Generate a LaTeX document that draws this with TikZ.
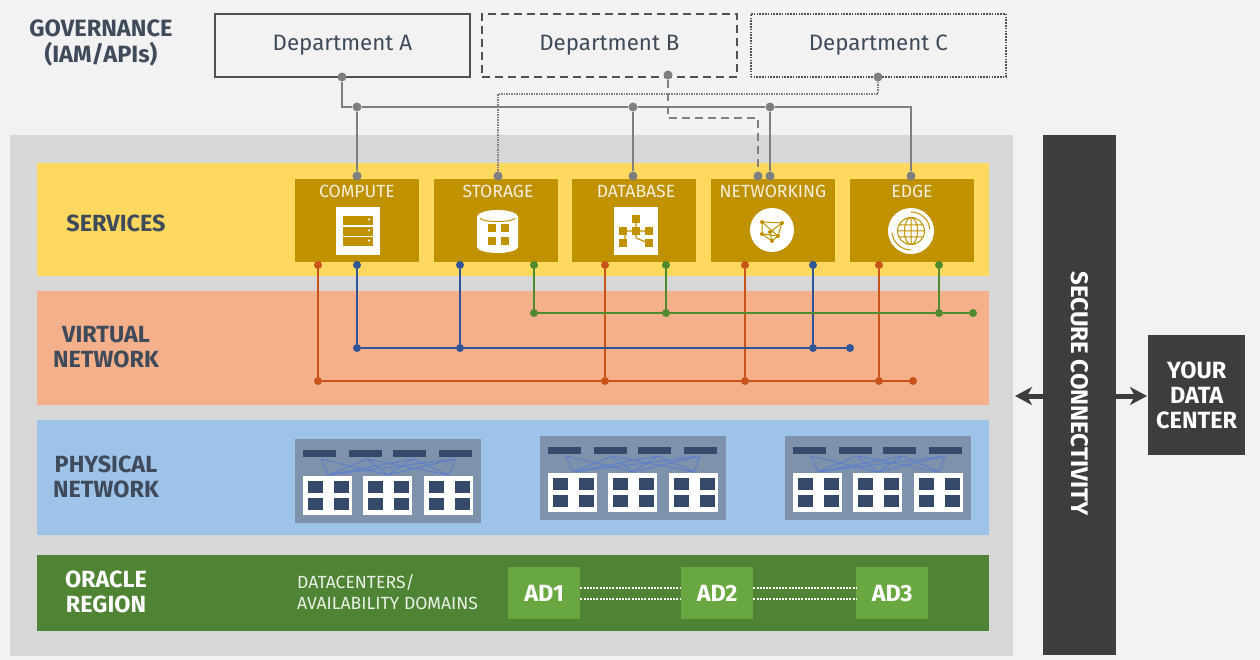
\documentclass[tikz,border=0pt]{standalone}
\usepackage{fontspec}
\setmainfont{Fira Sans}
\usetikzlibrary{arrows.meta,calc}
\definecolor{pagebg}{HTML}{F2F2F2}
\definecolor{panel}{HTML}{D7D7D7}
\definecolor{svcband}{HTML}{FFD860}
\definecolor{vnband}{HTML}{F4B08A}
\definecolor{phband}{HTML}{9DC3E8}
\definecolor{orband}{HTML}{4F8434}
\definecolor{svcbox}{HTML}{C09200}
\definecolor{adbox}{HTML}{69A840}
\definecolor{unitc}{HTML}{7E92AC}
\definecolor{navy}{HTML}{35496B}
\definecolor{linkc}{HTML}{5F80C8}
\definecolor{linegray}{HTML}{7F7F7F}
\definecolor{deptline}{HTML}{505050}
\definecolor{textc}{HTML}{3F4A5A}
\definecolor{darkbar}{HTML}{3D3D3D}
\definecolor{orgline}{HTML}{C9541A}
\definecolor{blueline}{HTML}{2F5597}
\definecolor{greenline}{HTML}{4F8A2E}
\tikzset{
  x=1pt,y=-1pt,
  deptbox/.style={draw=deptline,line width=1.8pt,fill=none,anchor=north west,inner sep=0,minimum width=255pt,minimum height=63pt,text=textc,font=\fontsize{22.3}{25}\selectfont},
  svc/.style={fill=svcbox,anchor=north west,inner sep=0,minimum width=124pt,minimum height=83pt},
  svclabel/.style={text=white!85!svcbox,font=\fontsize{17.6}{20}\selectfont,inner sep=0},
  bandlabel/.style={text=textc,align=center,inner sep=0,font=\bfseries\fontsize{23.4}{25}\selectfont},
  gdot/.style={circle,fill=linegray,inner sep=0,minimum size=9pt},
  odot/.style={circle,fill=orgline,inner sep=0,minimum size=8pt},
  bdot/.style={circle,fill=blueline,inner sep=0,minimum size=8pt},
  grdot/.style={circle,fill=greenline,inner sep=0,minimum size=8pt},
  gline/.style={draw=linegray,line width=2pt},
  oline/.style={draw=orgline,line width=2pt},
  bline/.style={draw=blueline,line width=2pt},
  grline/.style={draw=greenline,line width=2pt},
  adnode/.style={fill=adbox,anchor=north west,inner sep=0,minimum width=72pt,minimum height=52pt,text=white,font=\bfseries\fontsize{23.5}{24}\selectfont},
  adlink/.style={draw=white,line width=2.2pt,dash pattern=on 2pt off 1.2pt},
  bigarrow/.style={draw=darkbar,line width=5pt,-{Stealth[length=17pt,width=18pt,inset=5pt]}},
  wh/.style={fill=white,draw=none},
  ic/.style={fill=svcbox,draw=none},
  icl/.style={draw=svcbox,line width=1.2pt},
}
\newcommand{\netunit}[2]{%
  \begin{scope}[shift={(#1,#2)}]
    \fill[unitc] (0,0) rectangle (186,84);
    \foreach \bx in {8,54,98,144}{\fill[navy] (\bx,11) rectangle ++(33,6.5);}
    \draw[linkc,line width=1pt] (26,20) -- (33,36) -- (72,20) -- (93,36) -- (118,20) -- (154,36) -- (160,20) -- (33,36)
      (72,20) -- (154,36) (118,20) -- (33,36) (26,20) -- (93,36) (160,20) -- (93,36);
    \foreach \ux in {8,68,129}{
      \fill[white] (\ux,37) rectangle ++(48.5,39);
      \foreach \qx/\qy in {5/5,31/5,5/22,31/22}{\fill[navy] (\ux+\qx,37+\qy) rectangle ++(14.5,11.5);}
    }
  \end{scope}}
\begin{document}
\begin{tikzpicture}
\useasboundingbox (0,0) rectangle (1260,660);
\fill[pagebg] (0,0) rectangle (1260,660);
\fill[panel] (10,135) rectangle (1013,656);
\fill[svcband] (37,163) rectangle (989,276);
\fill[vnband] (37,291) rectangle (989,405);
\fill[phband] (37,420) rectangle (989,535);
\fill[orband] (37,555) rectangle (989,631);

% departments
\node[deptbox] (deptA) at (214,13) {Department A};
\node[deptbox,dash pattern=on 8pt off 5pt] (deptB) at (481,13) {Department B};
\node[deptbox,line width=1.6pt,dash pattern=on 1.6pt off 1.2pt] (deptC) at (750,13) {Department C};
\node[bandlabel,font=\bfseries\fontsize{23.6}{26}\selectfont] (gov) at (101,43) {GOVERNANCE\\(IAM/APIs)};

% band labels
\node[bandlabel] (lsvc) at (116,223) {SERVICES};
\node[bandlabel] (lvn) at (106,347) {VIRTUAL\\NETWORK};
\node[bandlabel] (lph) at (106,477) {PHYSICAL\\NETWORK};
\node[bandlabel,text=white] (lor) at (106,592) {ORACLE\\REGION};

% service boxes
\node[svc] (compute) at (295,179) {};
\node[svc] (storage) at (434,179) {};
\node[svc] (database) at (572,179) {};
\node[svc] (networking) at (711,179) {};
\node[svc] (edge) at (850,179) {};
\node[svclabel] at (357,191) {COMPUTE};
\node[svclabel] at (498,191) {STORAGE};
\node[svclabel] at (636,191) {DATABASE};
\node[svclabel] at (773,191) {NETWORKING};
\node[svclabel] at (912,191) {EDGE};

% compute icon
\fill[wh] (336,207) rectangle (380,255);
\foreach \yy in {216,227,237}{\fill[ic] (343,\yy) rectangle (373,\yy+9);
  \fill[white] (369,\yy+3.5) circle (1.2);}
% storage icon
\fill[wh] (477,217) -- (477,247) arc[start angle=180,end angle=0,x radius=20.5,y radius=6] -- (518,217) -- cycle;
\fill[wh] (497.5,217) ellipse [x radius=20.5,y radius=7];
\draw[svcbox,line width=1pt] (480,218) arc[start angle=180,end angle=0,x radius=17.5,y radius=3.5];
\foreach \qx/\qy in {488/224,501/224,488/237,501/237}{\fill[ic] (\qx,\qy) rectangle ++(8,8);}
% database icon
\fill[wh] (614,207) rectangle (658,255);
\draw[icl] (636,222) -- (636,238) (620,231) -- (650,231) (625,243) -- (625,231) (636,238) -- (648,243);
\foreach \qx/\qy in {632/215,632/227,619/227,645/227,619/239,645/239}{\fill[ic] (\qx,\qy) rectangle ++(8,8);}
% networking icon
\fill[wh] (772,230) circle (22);
\draw[icl,line width=1pt] (762,222) -- (782,223) -- (778,236) -- (772,241) -- (762,234) -- cycle
  (762,222) -- (778,236) (782,223) -- (770,232) -- (772,241) (762,234) -- (778,236);
\foreach \px/\py in {762/222,782/223,778/236,772/241,762/234,770/232}{\fill[ic] (\px,\py) circle (2);}
% edge icon
\fill[wh] (911,231) circle (23);
\draw[icl,line width=1pt] (911,231) circle (13.5) (897.5,231) -- (924.5,231) (911,217.5) -- (911,244.5)
  (911,231) ellipse [x radius=6.5,y radius=13.5] (899,225) -- (923,225) (899,237) -- (923,237);
\draw[icl,line width=1pt] (911,212) arc[start angle=-90,end angle=-5,radius=19];
\draw[icl,line width=1pt] (911,250) arc[start angle=90,end angle=175,radius=19];

% gray endpoints
\node[gdot] (dA) at (342,77) {};
\node[gdot] (dB) at (668,75) {};
\node[gdot] (dC) at (878,77) {};
\node[gdot] (jC) at (357,107) {};
\node[gdot] (jD) at (633,107) {};
\node[gdot] (jN) at (770,107) {};
\node[gdot] (eC) at (357,176) {};
\node[gdot] (eS) at (498,176) {};
\node[gdot] (eD) at (633,176) {};
\node[gdot] (eNb) at (758,176) {};
\node[gdot] (eN) at (770,176) {};
\node[gdot] (eE) at (911,176) {};
\coordinate (cB1) at (668,118);
\coordinate (cC1) at (878,94);
\draw[gline] (dA) |- (jC);
\draw[gline] (jC) -- (jD);
\draw[gline] (jD) -- (jN);
\draw[gline] (jN) -| (eE);
\draw[gline] (jC) -- (eC);
\draw[gline] (jD) -- (eD);
\draw[gline] (jN) -- (eN);
\draw[draw=linegray,line width=1.8pt,dash pattern=on 1.5pt off 1pt] (dC) -- (cC1) -| (eS);
\draw[draw=linegray,line width=1.8pt,dash pattern=on 8pt off 5pt] (dB) -- (cB1) -| (eNb);

% orange net
\foreach \n/\xx in {a/318,b/605,c/745,d/879}{
  \node[odot] (ot\n) at (\xx,265) {};
  \node[odot] (ob\n) at (\xx,381) {};
  \draw[oline] (ot\n) -- (ob\n);
}
\node[odot] (oend) at (913,381) {};
\draw[oline] (oba) -- (obb);
\draw[oline] (obb) -- (obc);
\draw[oline] (obc) -- (obd);
\draw[oline] (obd) -- (oend);
% blue net
\foreach \n/\xx in {a/357,b/460,c/813}{
  \node[bdot] (bt\n) at (\xx,265) {};
  \node[bdot] (bb\n) at (\xx,348) {};
  \draw[bline] (bt\n) -- (bb\n);
}
\node[bdot] (bend) at (850,348) {};
\draw[bline] (bba) -- (bbb);
\draw[bline] (bbb) -- (bbc);
\draw[bline] (bbc) -- (bend);
% green net
\foreach \n/\xx in {a/534,b/666,c/939}{
  \node[grdot] (gt\n) at (\xx,265) {};
  \node[grdot] (gb\n) at (\xx,313) {};
  \draw[grline] (gt\n) -- (gb\n);
}
\node[grdot] (gend) at (973,313) {};
\draw[grline] (gba) -- (gbb);
\draw[grline] (gbb) -- (gbc);
\draw[grline] (gbc) -- (gend);

% physical units
\netunit{295}{439}
\netunit{540}{436}
\netunit{785}{436}

% oracle region
\node[text=white!88!orband,align=left,anchor=west,inner sep=0,font=\fontsize{17.6}{20.5}\selectfont] (dctext) at (297,592) {DATACENTERS/\\AVAILABILITY DOMAINS};
\node[adnode] (ad1) at (508,567) {AD1};
\node[adnode] (ad2) at (681,567) {AD2};
\node[adnode] (ad3) at (856,567) {AD3};
\draw[adlink] ([yshift=-5.5pt]ad1.east) -- ([yshift=-5.5pt]ad2.west);
\draw[adlink] ([yshift=5.5pt]ad1.east) -- ([yshift=5.5pt]ad2.west);
\draw[adlink] ([yshift=-5.5pt]ad2.east) -- ([yshift=-5.5pt]ad3.west);
\draw[adlink] ([yshift=5.5pt]ad2.east) -- ([yshift=5.5pt]ad3.west);

% right side
\node[fill=darkbar,anchor=north west,inner sep=0,minimum width=73pt,minimum height=520pt] (secure) at (1043,135) {};
\node[text=white,rotate=-90,font=\bfseries\fontsize{24}{24}\selectfont,inner sep=0] at (1080,393.5) {SECURE CONNECTIVITY};
\node[fill=darkbar,anchor=north west,inner sep=0,minimum width=97pt,minimum height=120pt,text=white,align=center,font=\bfseries\fontsize{23.5}{25}\selectfont] (ydc) at (1148,335) {YOUR\\DATA\\CENTER};
\coordinate (arrL) at (1015,396);
\coordinate (barL) at (1043,396);
\coordinate (barR) at (1116,396);
\coordinate (arrR) at (1147,396);
\draw[bigarrow] (barL) -- (arrL);
\draw[bigarrow] (barR) -- (arrR);
\end{tikzpicture}
\end{document}
